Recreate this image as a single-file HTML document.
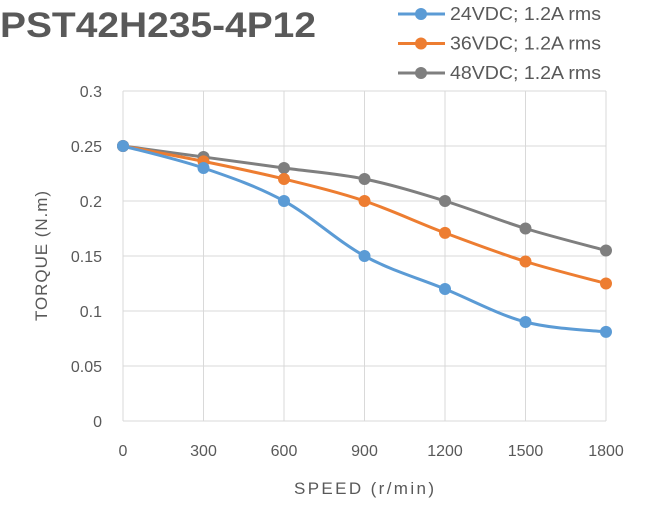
<!DOCTYPE html>
<html><head><meta charset="utf-8">
<style>
html,body{margin:0;padding:0;background:#fff;}
svg{display:block;font-family:"Liberation Sans",sans-serif;}
</style></head>
<body>
<svg id="chart" width="653" height="521" viewBox="0 0 653 521">
<text x="0" y="37" font-size="35" font-weight="bold" fill="#595959" textLength="316" lengthAdjust="spacingAndGlyphs">PST42H235-4P12</text>
<g id="grid"></g>
<g id="yticks"></g>
<g id="xticks"></g>
<g id="series"></g>
<g id="legend"></g>
<text x="364" y="494" font-size="17" fill="#595959" text-anchor="middle" textLength="140">SPEED (r/min)</text>
<text transform="translate(47,256) rotate(-90)" font-size="17" fill="#595959" text-anchor="middle" textLength="130">TORQUE (N.m)</text>
</svg>
<script>
const speeds = [0,300,600,900,1200,1500,1800];
const yTicks = [0,0.05,0.1,0.15,0.2,0.25,0.3];
const v24 = [0.25,0.23,0.20,0.15,0.12,0.09,0.081];
const v36 = [0.25,0.236,0.22,0.20,0.171,0.145,0.125];
const v48 = [0.25,0.24,0.23,0.22,0.20,0.175,0.155];
const seriesNames = ["24VDC; 1.2A rms","36VDC; 1.2A rms","48VDC; 1.2A rms"];
const seriesColors = ["#5b9bd5","#ed7d31","#7f7f7f"];
const seriesData = [v24,v36,v48];

const NS="http://www.w3.org/2000/svg";
const X0=123,X1=606,Y0=421,Y1=91;
const xs=v=>X0+(v-0)/1800*(X1-X0);
const ys=v=>Y0-(v/0.3)*(Y0-Y1);
function mk(tag,attrs,parent){const e=document.createElementNS(NS,tag);for(const k in attrs)e.setAttribute(k,attrs[k]);parent.appendChild(e);return e;}
const grid=document.getElementById('grid'),yt=document.getElementById('yticks'),xt=document.getElementById('xticks');
yTicks.forEach(t=>{
  const l=mk('line',{x1:X0,x2:X1,y1:ys(t),y2:ys(t),stroke:'#d9d9d9','stroke-width':1},grid);
  
  
  const tx=mk('text',{x:102,y:ys(t)+6,'font-size':16,fill:'#595959','text-anchor':'end'},yt);
  tx.textContent=String(t);
  
  
});
speeds.forEach(s=>{
  const l=mk('line',{x1:xs(s),x2:xs(s),y1:Y1,y2:Y0,stroke:'#d9d9d9','stroke-width':1},grid);
  
  
  const tx=mk('text',{x:xs(s),y:456,'font-size':16,fill:'#595959','text-anchor':'middle'},xt);
  tx.textContent=String(s);
  
  
});
function smooth(pts){
  let d=`M${pts[0][0]},${pts[0][1]}`;
  for(let i=0;i<pts.length-1;i++){
    const p0=pts[i-1]||pts[i],p1=pts[i],p2=pts[i+1],p3=pts[i+2]||p2,t=6;
    const c1=[p1[0]+(p2[0]-p0[0])/t,p1[1]+(p2[1]-p0[1])/t];
    const c2=[p2[0]-(p3[0]-p1[0])/t,p2[1]-(p3[1]-p1[1])/t];
    d+=` C${c1[0]},${c1[1]} ${c2[0]},${c2[1]} ${p2[0]},${p2[1]}`;
  }
  return d;
}
const sg=document.getElementById('series'),lg=document.getElementById('legend');
[2,1,0].forEach(i=>{
  const g=mk('g',{},sg);
  
  
  const pts=seriesData[i].map((v,j)=>[xs(speeds[j]),ys(v)]);
  const p=mk('path',{d:smooth(pts),fill:'none',stroke:seriesColors[i],'stroke-width':3},g);
  
  
  pts.forEach(pt=>{
    const c=mk('circle',{cx:pt[0],cy:pt[1],r:6,fill:seriesColors[i]},g);
    
    
  });
});
seriesNames.forEach((n,i)=>{
  const y=14+i*29.5;
  const g=mk('g',{},lg);
  
  
  mk('line',{x1:398,x2:445,y1:y,y2:y,stroke:seriesColors[i],'stroke-width':3},g);
  mk('circle',{cx:421,cy:y,r:6,fill:seriesColors[i]},g);
  const t=mk('text',{x:450,y:y+6,'font-size':18,fill:'#595959',textLength:151,lengthAdjust:'spacingAndGlyphs'},g);
  t.textContent=n;
});
</script>
</body></html>
